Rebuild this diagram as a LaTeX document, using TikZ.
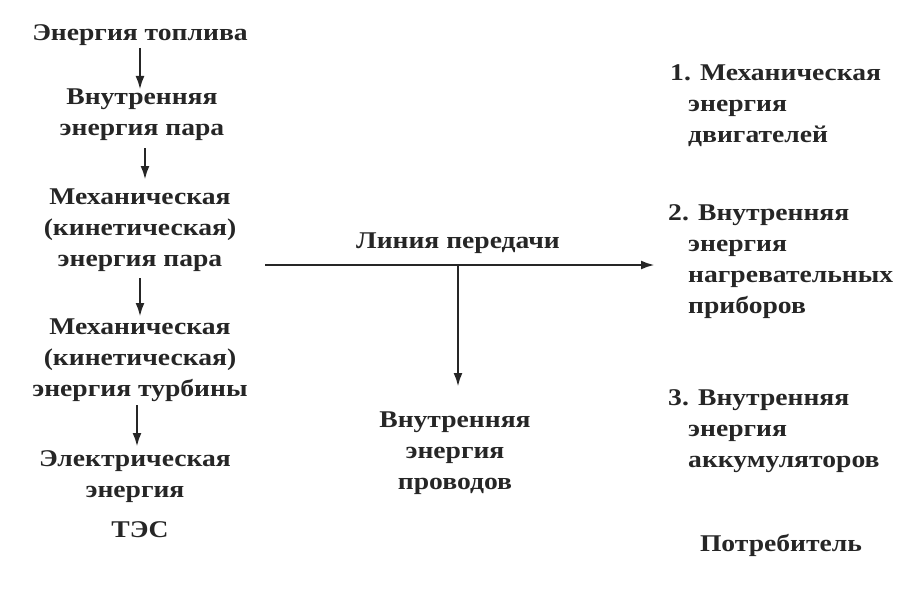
\documentclass[tikz,border=0pt]{standalone}
\usepackage{fontspec}
\setmainfont[FakeStretch=1.15]{Liberation Serif}
\usetikzlibrary{arrows.meta}
\begin{document}
\begin{tikzpicture}[x=1pt,y=-1pt,
  t/.style={font=\bfseries\fontsize{24}{31}\selectfont,text=black!85,inner sep=0pt,align=center},
  tl/.style={t,align=left,anchor=north west},
  ar/.style={-{Latex[length=14pt,width=9pt]},line width=2.6pt,black!85}]
\useasboundingbox (0,0) rectangle (910,602);
\node[t] (a) at (140,35) {Энергия топлива};
\node[t] (b) at (142,115) {Внутренняя\\энергия пара};
\node[t] (c) at (140,230) {Механическая\\(кинетическая)\\энергия пара};
\node[t] (d) at (140,360) {Механическая\\(кинетическая)\\энергия турбины};
\node[t] (e) at (135,477) {Электрическая\\энергия};
\node[t] (f) at (140,530) {ТЭС};
\draw[ar] (140,48) -- (140,90);
\draw[ar] (145,148) -- (145,180);
\draw[ar] (140,278) -- (140,317);
\draw[ar] (137,405) -- (137,447);
\coordinate (h1) at (265,265);
\coordinate (h2) at (655,265);
\coordinate (j) at (458,265);
\coordinate (v) at (458,387);
\draw[ar] (h1) -- (h2);
\draw[ar] (j) -- (v);
\node[t] (l) at (458,243) {Линия передачи};
\node[t] (w) at (455,453) {Внутренняя\\энергия\\проводов};
\node[tl] (r1) at (670,64) {1. Механическая\\\hspace*{18pt}энергия\\\hspace*{18pt}двигателей};
\node[tl] (r2) at (668,204) {2. Внутренняя\\\hspace*{20pt}энергия\\\hspace*{20pt}нагревательных\\\hspace*{20pt}приборов};
\node[tl] (r3) at (668,389) {3. Внутренняя\\\hspace*{20pt}энергия\\\hspace*{20pt}аккумуляторов};
\node[t] (p) at (781,545) {Потребитель};
\end{tikzpicture}
\end{document}
